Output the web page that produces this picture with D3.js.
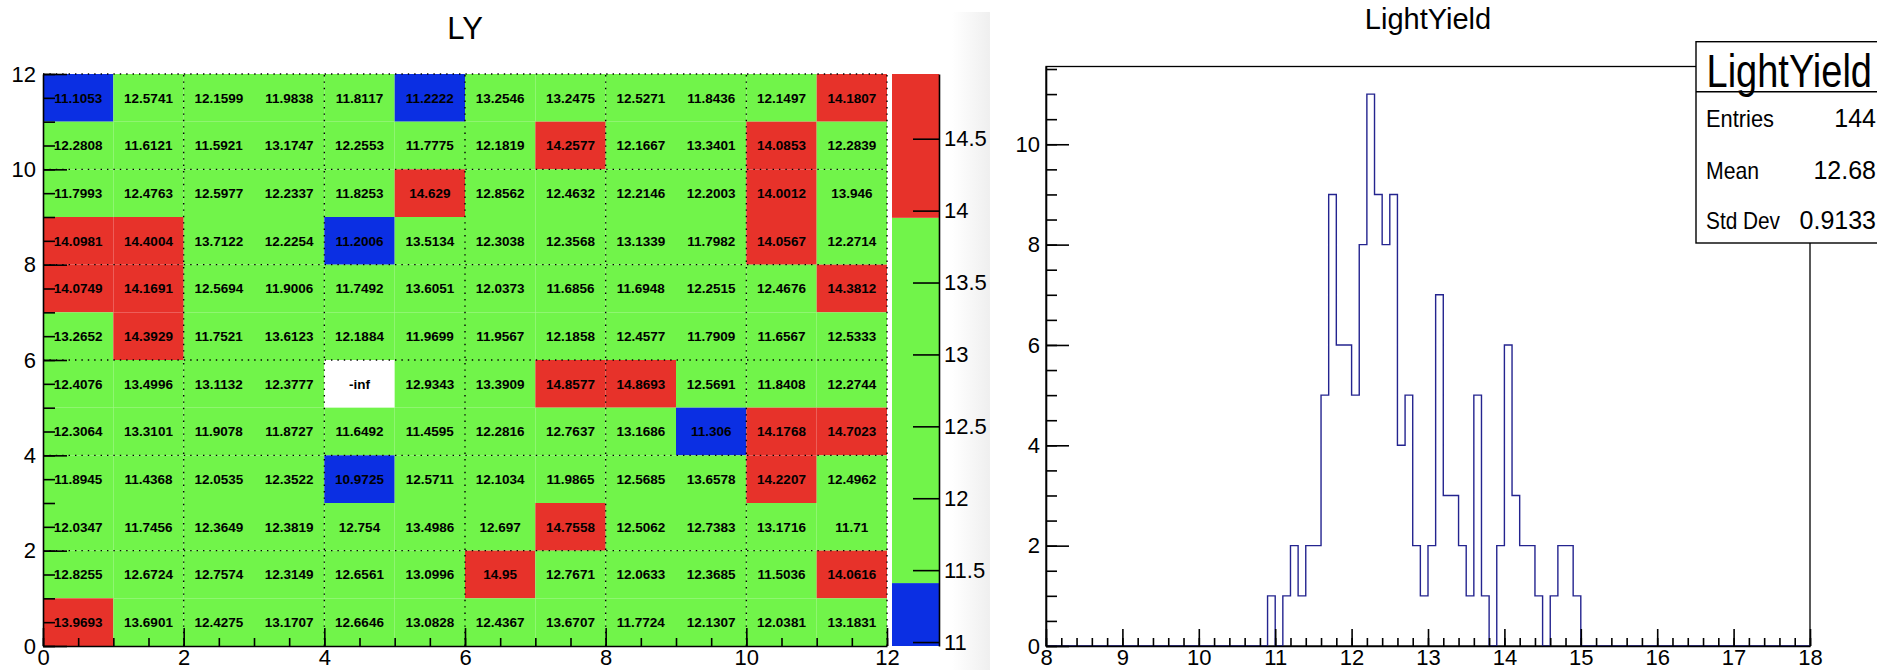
<!DOCTYPE html>
<html>
<head>
<meta charset="utf-8">
<script src="https://cdn.jsdelivr.net/npm/d3@7"></script>
<style>
  html, body { margin: 0; padding: 0; background: #fff; overflow: hidden; }
  svg { display: block; font-family: "Liberation Sans", Arial, Helvetica, sans-serif; }
</style>
</head>
<body>
<svg id="chart" width="1877" height="670"></svg>
<script>
// ---- LY map: one row per y bin, listed from the top row (y = 11) down to y = 0 ----
const lyRows = [
  [11.1053, 12.5741, 12.1599, 11.9838, 11.8117, 11.2222, 13.2546, 13.2475, 12.5271, 11.8436, 12.1497, 14.1807],
  [12.2808, 11.6121, 11.5921, 13.1747, 12.2553, 11.7775, 12.1819, 14.2577, 12.1667, 13.3401, 14.0853, 12.2839],
  [11.7993, 12.4763, 12.5977, 12.2337, 11.8253, 14.629, 12.8562, 12.4632, 12.2146, 12.2003, 14.0012, 13.946],
  [14.0981, 14.4004, 13.7122, 12.2254, 11.2006, 13.5134, 12.3038, 12.3568, 13.1339, 11.7982, 14.0567, 12.2714],
  [14.0749, 14.1691, 12.5694, 11.9006, 11.7492, 13.6051, 12.0373, 11.6856, 11.6948, 12.2515, 12.4676, 14.3812],
  [13.2652, 14.3929, 11.7521, 13.6123, 12.1884, 11.9699, 11.9567, 12.1858, 12.4577, 11.7909, 11.6567, 12.5333],
  [12.4076, 13.4996, 13.1132, 12.3777, -Infinity, 12.9343, 13.3909, 14.8577, 14.8693, 12.5691, 11.8408, 12.2744],
  [12.3064, 13.3101, 11.9078, 11.8727, 11.6492, 11.4595, 12.2816, 12.7637, 13.1686, 11.306, 14.1768, 14.7023],
  [11.8945, 11.4368, 12.0535, 12.3522, 10.9725, 12.5711, 12.1034, 11.9865, 12.5685, 13.6578, 14.2207, 12.4962],
  [12.0347, 11.7456, 12.3649, 12.3819, 12.754, 13.4986, 12.697, 14.7558, 12.5062, 12.7383, 13.1716, 11.71],
  [12.8255, 12.6724, 12.7574, 12.3149, 12.6561, 13.0996, 14.95, 12.7671, 12.0633, 12.3685, 11.5036, 14.0616],
  [13.9693, 13.6901, 12.4275, 13.1707, 12.6646, 13.0828, 12.4367, 13.6707, 11.7724, 12.1307, 12.0381, 13.1831]
];
const mapTitle = "LY";
const mapRange = [0, 12];
const mapTicks = [0, 2, 4, 6, 8, 10, 12];

// colour palette: three bands split at these levels
const zRange = [10.9725, 14.95];
const zLevels = [11.41, 13.95];
const zColors = ["#0b2fe3", "#71f44a", "#e7322a"];
const zTicks = [11, 11.5, 12, 12.5, 13, 13.5, 14, 14.5];

// ---- LightYield histogram: 0.1 wide bins on [8, 18]; counts start at the 10.9 bin ----
const histTitle = "LightYield";
const histRange = [8, 18];
const histBinWidth = 0.1;
const histFirstBin = 10.9;
const histCounts = [1, 0, 1, 2, 1, 2, 2, 5, 9, 6, 6, 5, 8, 11, 9, 8, 9, 4, 5, 2, 1,
                    2, 7, 3, 3, 2, 1, 5, 1, 0, 2, 6, 3, 2, 2, 1, 0, 1, 2, 2, 1];
const histXTicks = [8, 9, 10, 11, 12, 13, 14, 15, 16, 17, 18];
const histYTicks = [0, 2, 4, 6, 8, 10];
const histYMax = 11.55;

const statsLabels = ["Entries", "Mean", "Std Dev"];
const statsValues = ["144", "12.68", "0.9133"];

// -------------------------------------------------------------------------
const svg = d3.select("#chart");
const FONT = "\"Liberation Sans\", Arial, Helvetica, sans-serif";
const AXIS_W = 1.6;

function styleAxis(g, size) {
  g.attr("font-family", FONT).attr("font-size", size);
  g.selectAll("path.domain").attr("stroke", "#000").attr("stroke-width", AXIS_W);
  g.selectAll(".tick line").attr("stroke", "#000").attr("stroke-width", AXIS_W);
  g.selectAll(".tick text").attr("fill", "#000");
}
function minorAxis(axis, g) {
  g.call(axis.tickFormat(""));
  g.select("path.domain").remove();
  g.selectAll(".tick line").attr("stroke", "#000").attr("stroke-width", AXIS_W);
}

// faint shade at the edge of the left canvas
const defs = svg.append("defs");
const shade = defs.append("linearGradient").attr("id", "edgeShade");
shade.append("stop").attr("offset", "0%").attr("stop-color", "#ffffff");
shade.append("stop").attr("offset", "100%").attr("stop-color", "#efefef");
svg.append("rect").attr("x", 952).attr("y", 12).attr("width", 38).attr("height", 658)
  .attr("fill", "url(#edgeShade)");

// ======================= LY map =======================
const mx = d3.scaleLinear().domain(mapRange).range([43, 887]);
const my = d3.scaleLinear().domain(mapRange).range([646, 74]);
const zColor = d3.scaleThreshold().domain(zLevels).range(zColors);
const nRows = lyRows.length;

const cells = [];
lyRows.forEach((row, r) => row.forEach((v, c) => cells.push({ ix: c, iy: nRows - 1 - r, v })));

const mapG = svg.append("g");
mapG.selectAll("rect.cell").data(cells).join("rect")
  .attr("class", "cell")
  .attr("x", d => mx(d.ix))
  .attr("y", d => my(d.iy + 1))
  .attr("width", d => mx(d.ix + 1) - mx(d.ix))
  .attr("height", d => my(d.iy) - my(d.iy + 1))
  .attr("fill", d => Number.isFinite(d.v) ? zColor(d.v) : "#ffffff");

// dotted grid on the major divisions
const gridG = mapG.append("g").attr("stroke", "#000").attr("stroke-width", 1.4)
  .attr("stroke-dasharray", "1.4,5");
gridG.selectAll("line.gx").data(mapTicks.slice(1)).join("line")
  .attr("x1", d => mx(d)).attr("x2", d => mx(d)).attr("y1", my(0)).attr("y2", my(12));
gridG.selectAll("line.gy").data(mapTicks.slice(1)).join("line")
  .attr("y1", d => my(d)).attr("y2", d => my(d)).attr("x1", mx(0)).attr("x2", mx(12));

// cell values
const fmt = v => Number.isFinite(v) ? String(v) : "-inf";
mapG.selectAll("text.val").data(cells).join("text")
  .attr("class", "val")
  .attr("x", d => mx(d.ix + 0.5))
  .attr("y", d => my(d.iy + 0.5))
  .attr("dy", "0.36em")
  .attr("text-anchor", "middle")
  .attr("font-family", FONT).attr("font-weight", "bold").attr("font-size", 13.5)
  .attr("fill", "#000")
  .text(d => fmt(d.v));

// axes of the map
const halfSteps = d3.range(0, 12.001, 0.5);
minorAxis(d3.axisLeft(my).tickValues(halfSteps).tickSizeInner(-12).tickSizeOuter(0),
  mapG.append("g").attr("transform", `translate(${mx(0)},0)`));
minorAxis(d3.axisBottom(mx).tickValues(halfSteps).tickSizeInner(-8).tickSizeOuter(0),
  mapG.append("g").attr("transform", `translate(0,${my(0)})`));
mapG.append("g").attr("transform", `translate(${mx(0)},0)`)
  .call(d3.axisLeft(my).tickValues(mapTicks).tickSizeInner(-24).tickSizeOuter(0).tickPadding(7).tickFormat(d3.format("d")))
  .call(g => styleAxis(g, 22));
mapG.append("g").attr("transform", `translate(0,${my(0)})`)
  .call(d3.axisBottom(mx).tickValues(mapTicks).tickSizeInner(-18).tickSizeOuter(0).tickPadding(3).tickFormat(d3.format("d")))
  .call(g => styleAxis(g, 22));

svg.append("text").attr("x", (mx(0) + mx(12)) / 2).attr("y", 39)
  .attr("text-anchor", "middle").attr("font-family", FONT).attr("font-size", 31)
  .text(mapTitle);

// palette bar
const zy = d3.scaleLinear().domain(zRange).range([646, 74]);
const bandEdges = [zRange[0], ...zLevels, zRange[1]];
const bands = zColors.map((col, i) => ({ lo: bandEdges[i], hi: bandEdges[i + 1], col }));
svg.append("g").selectAll("rect").data(bands).join("rect")
  .attr("x", 892).attr("width", 939 - 892)
  .attr("y", d => zy(d.hi)).attr("height", d => zy(d.lo) - zy(d.hi))
  .attr("fill", d => d.col);
svg.append("g").attr("transform", "translate(939,0)")
  .call(d3.axisRight(zy).tickValues(zTicks).tickSizeInner(-26).tickSizeOuter(0).tickPadding(5).tickFormat(d3.format("~g")))
  .call(g => styleAxis(g, 22));

// ======================= LightYield histogram =======================
const hx = d3.scaleLinear().domain(histRange).range([1046, 1810]);
const hy = d3.scaleLinear().domain([0, histYMax]).range([646, 66.5]);
const nBins = Math.round((histRange[1] - histRange[0]) / histBinWidth);
const firstIdx = Math.round((histFirstBin - histRange[0]) / histBinWidth);
const bins = d3.range(nBins).map(i => {
  const k = i - firstIdx;
  return { lo: histRange[0] + i * histBinWidth, n: (k >= 0 && k < histCounts.length) ? histCounts[k] : 0 };
});
const stepPts = bins.map(b => [b.lo, b.n]).concat([[histRange[1], 0]]);

const histG = svg.append("g");
// frame
histG.append("rect").attr("x", hx(8)).attr("y", hy(histYMax))
  .attr("width", hx(18) - hx(8)).attr("height", hy(0) - hy(histYMax))
  .attr("fill", "none").attr("stroke", "#000").attr("stroke-width", 1.3);

histG.append("path")
  .attr("d", d3.line().x(d => hx(d[0])).y(d => hy(d[1])).curve(d3.curveStepAfter)(stepPts))
  .attr("fill", "none").attr("stroke", "#24248f").attr("stroke-width", 1.4);

minorAxis(d3.axisBottom(hx).tickValues(d3.range(8, 18.001, 0.2)).tickSizeInner(-8).tickSizeOuter(0),
  histG.append("g").attr("transform", `translate(0,${hy(0)})`));
minorAxis(d3.axisLeft(hy).tickValues(d3.range(0, 11.51, 0.5)).tickSizeInner(-11).tickSizeOuter(0),
  histG.append("g").attr("transform", `translate(${hx(8)},0)`));
histG.append("g").attr("transform", `translate(0,${hy(0)})`)
  .call(d3.axisBottom(hx).tickValues(histXTicks).tickSizeInner(-17).tickSizeOuter(0).tickPadding(3).tickFormat(d3.format("d")))
  .call(g => styleAxis(g, 22));
histG.append("g").attr("transform", `translate(${hx(8)},0)`)
  .call(d3.axisLeft(hy).tickValues(histYTicks).tickSizeInner(-23).tickSizeOuter(0).tickPadding(6).tickFormat(d3.format("d")))
  .call(g => styleAxis(g, 22));

svg.append("text").attr("x", (hx(8) + hx(18)) / 2).attr("y", 29)
  .attr("text-anchor", "middle").attr("font-family", FONT).attr("font-size", 29)
  .text(histTitle);

// statistics box
const box = svg.append("g");
box.append("rect").attr("x", 1696).attr("y", 41.7).attr("width", 240).attr("height", 201.3)
  .attr("fill", "#fff").attr("stroke", "#000").attr("stroke-width", 1.4);
box.append("line").attr("x1", 1696).attr("x2", 1940).attr("y1", 91.7).attr("y2", 91.7)
  .attr("stroke", "#000").attr("stroke-width", 1.4);
// header: tall, narrow lettering
box.append("text")
  .attr("transform", "translate(1706.5,86.5) scale(1,1.24)")
  .attr("x", 0).attr("y", 0)
  .attr("font-family", FONT).attr("font-size", 38)
  .text(histTitle);
const rowY = [127, 179, 229];
const labelW = [68, 53, 74];
box.selectAll("text.lab").data(statsLabels).join("text")
  .attr("class", "lab")
  .attr("x", 1706).attr("y", (d, i) => rowY[i])
  .attr("font-family", FONT).attr("font-size", 24)
  .attr("textLength", (d, i) => labelW[i]).attr("lengthAdjust", "spacingAndGlyphs")
  .text(d => d);
box.selectAll("text.num").data(statsValues).join("text")
  .attr("class", "num")
  .attr("x", 1876).attr("y", (d, i) => rowY[i])
  .attr("text-anchor", "end")
  .attr("font-family", FONT).attr("font-size", 25)
  .text(d => d);
</script>
</body>
</html>
